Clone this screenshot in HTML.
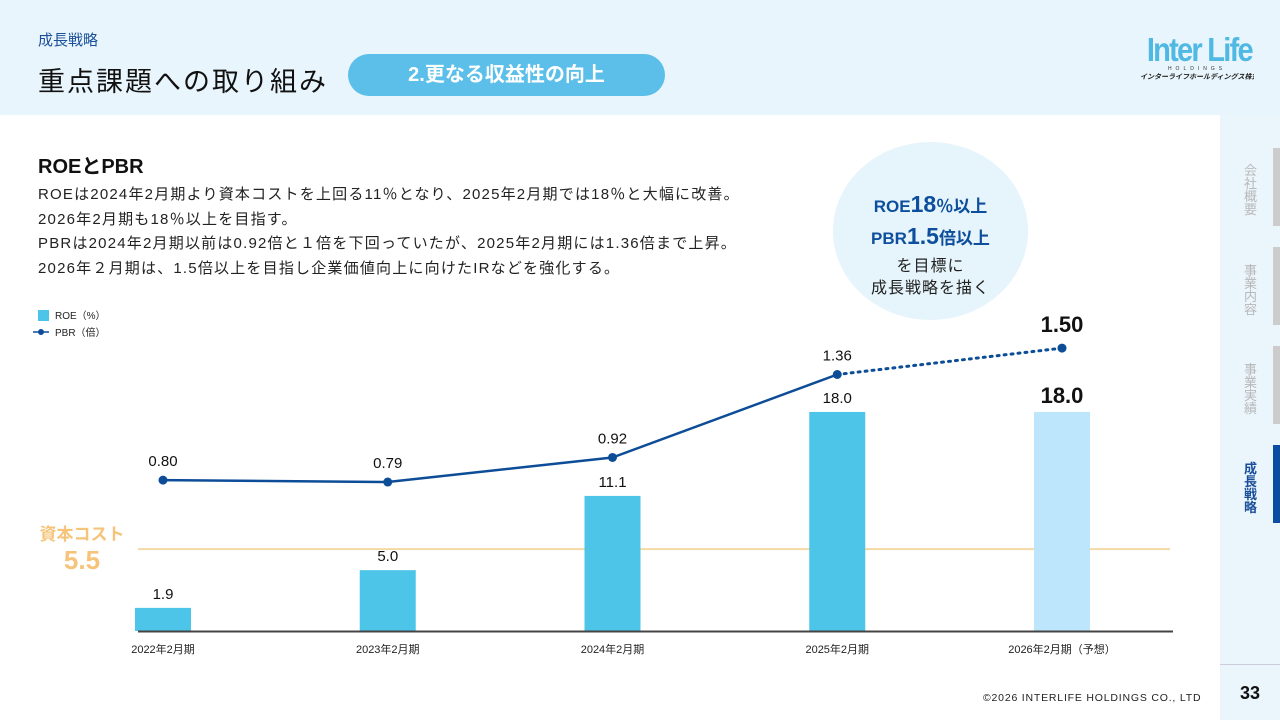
<!DOCTYPE html>
<html><head><meta charset="utf-8">
<style>
*{margin:0;padding:0;box-sizing:border-box}
body{width:1280px;height:720px;overflow:hidden;background:#fff;font-family:"Liberation Sans","Noto Sans CJK JP",sans-serif;position:relative;color:#111}
.abs{position:absolute}
</style></head><body>
<div class="abs" style="left:0;top:0;width:1280px;height:115px;background:#e9f5fc"></div>
<div class="abs" style="left:1220px;top:115px;width:60px;height:605px;background:#eaf5fc"></div>
<div class="abs" style="left:38px;top:29px;font-size:15px;color:#1a4f9a">成長戦略</div>
<div class="abs" style="left:38px;top:60px;font-size:27px;letter-spacing:2px;color:#111">重点課題への取り組み</div>
<div class="abs" style="left:348px;top:54px;width:317px;height:42px;border-radius:21px;background:#5bbfe9;color:#fff;font-size:20px;font-weight:bold;text-align:center;line-height:42px">2.更なる収益性の向上</div>
<div class="abs" style="left:1140px;top:33px;width:114px;text-align:center;overflow:hidden">
 <div style="font-size:33px;font-weight:bold;color:#4fb8e3;line-height:33px;letter-spacing:-2px;white-space:nowrap;transform:scaleX(.88);transform-origin:center">Inter Life</div>
 <div style="font-size:5px;letter-spacing:4px;color:#333;white-space:nowrap">HOLDINGS</div>
 <div style="font-size:7px;color:#222;font-style:italic;white-space:nowrap;font-weight:bold">インターライフホールディングス株式会社</div>
</div>
<div class="abs" style="left:38px;top:150px;font-size:20px;font-weight:bold">ROEとPBR</div>
<div class="abs" style="left:38px;top:183px;font-size:15px;line-height:24.5px;letter-spacing:1.2px;color:#222;white-space:nowrap">ROEは2024年2月期より資本コストを上回る11％となり、2025年2月期では18％と大幅に改善。<br>2026年2月期も18％以上を目指す。<br>PBRは2024年2月期以前は0.92倍と１倍を下回っていたが、2025年2月期には1.36倍まで上昇。<br>2026年２月期は、1.5倍以上を目指し企業価値向上に向けたIRなどを強化する。</div>
<div class="abs" style="left:833px;top:142px;width:195px;height:178px;border-radius:50%;background:#e6f4fc;text-align:center;color:#0d4f9c;font-weight:bold">
 <div style="margin-top:48px;font-size:17px;line-height:28px">ROE<span style="font-size:23px">18</span>％以上</div>
 <div style="font-size:17px;line-height:30px">PBR<span style="font-size:23px">1.5</span>倍以上</div>
 <div style="font-size:16px;line-height:22px;color:#222;font-weight:normal;margin-top:2px;letter-spacing:1px">を目標に<br>成長戦略を描く</div>
</div>
<div class="abs" style="left:35px;top:520px;font-size:17px;font-weight:bold;color:#f5c47a;text-align:center;width:94px">資本コスト<div style="font-size:26px">5.5</div></div>
<svg class="abs" id="chart" style="left:0;top:0" width="1220" height="720"></svg>
<div class="abs" style="left:1273px;top:148px;width:7px;height:78px;background:#ccc"></div>
<div class="abs" style="left:1273px;top:247px;width:7px;height:78px;background:#ccc"></div>
<div class="abs" style="left:1273px;top:346px;width:7px;height:78px;background:#ccc"></div>
<div class="abs" style="left:1273px;top:445px;width:7px;height:78px;background:#0a4da2"></div>
<div class="abs" style="left:1244px;top:164px;width:14px;font-size:13px;line-height:13px;color:#b8b8b8">会社概要</div>
<div class="abs" style="left:1244px;top:264px;width:14px;font-size:13px;line-height:13px;color:#b8b8b8">事業内容</div>
<div class="abs" style="left:1244px;top:363px;width:14px;font-size:13px;line-height:13px;color:#b8b8b8">事業実績</div>
<div class="abs" style="left:1244px;top:462px;width:14px;font-size:13px;line-height:13px;color:#1a4f9a;font-weight:bold">成長戦略</div>
<div class="abs" style="left:1220px;top:664px;width:60px;height:1px;background:#ccd"></div>
<div class="abs" style="left:1240px;top:683px;font-size:18px;font-weight:bold">33</div>
<div class="abs" style="left:983px;top:692px;font-size:10.5px;color:#222;letter-spacing:.8px">©2026 INTERLIFE HOLDINGS CO., LTD</div>
<script>
const categories=["2022年2月期","2023年2月期","2024年2月期","2025年2月期","2026年2月期（予想）"];
const roeValues=[1.9,5.0,11.1,18.0,18.0];
const roeLabels=["1.9","5.0","11.1","18.0","18.0"];
const pbrValues=[0.80,0.79,0.92,1.36,1.50];
const pbrLabels=["0.80","0.79","0.92","1.36","1.50"];
const forecast=[false,false,false,false,true];
const costOfCapital=5.5;
const NS="http://www.w3.org/2000/svg";
const svg=document.getElementById('chart');
const baseY=631, x0=163, step=224.75;
const xPos=i=>x0+i*step;
const yRoe=v=>baseY-v*12.17;
const yPbr=v=>baseY-v*188.6;
function mk(tag,attrs){const e=document.createElementNS(NS,tag);for(const k in attrs)e.setAttribute(k,attrs[k]);svg.appendChild(e);return e;}
let cl=mk('line',{x1:138,x2:1170,y1:yRoe(costOfCapital)-15,y2:yRoe(costOfCapital)-15,stroke:'#f3d9a4','stroke-width':2});


roeValues.forEach((v,i)=>{
 const r=mk('rect',{x:xPos(i)-28,y:yRoe(v),width:56,height:baseY-yRoe(v),fill:forecast[i]?'#bde5fb':'#4dc5e8'});
 
 
 const t=mk('text',{x:xPos(i),y:yRoe(v)-9,'text-anchor':'middle','font-size':forecast[i]?22:15,'font-weight':forecast[i]?'bold':'normal',fill:'#111'});
 t.textContent=roeLabels[i];
 
 
 const c=mk('text',{x:xPos(i),y:653,'text-anchor':'middle','font-size':11,fill:'#222'});
 c.textContent=categories[i];
 
 
});
let ax=mk('line',{x1:138,x2:1173,y1:baseY+0.5,y2:baseY+0.5,stroke:'#444','stroke-width':2});


for(let i=0;i<pbrValues.length-1;i++){
 const l=mk('line',{x1:xPos(i),y1:yPbr(pbrValues[i]),x2:xPos(i+1),y2:yPbr(pbrValues[i+1]),stroke:'#0d4d98','stroke-width':forecast[i+1]?3:2.5,'stroke-dasharray':forecast[i+1]?'2 5':'none','stroke-linecap':'round'});
 
 
}
pbrValues.forEach((v,i)=>{
 const c=mk('circle',{cx:xPos(i),cy:yPbr(v),r:4.5,fill:'#0d4d98'});
 
 
 const t=mk('text',{x:xPos(i),y:yPbr(v)-(forecast[i]?16:14),'text-anchor':'middle','font-size':forecast[i]?22:15,'font-weight':forecast[i]?'bold':'normal',fill:'#111'});
 t.textContent=pbrLabels[i];
 
 
});
let lr=mk('rect',{x:38,y:310,width:11,height:11,fill:'#4dc5e8'});


let lt=mk('text',{x:55,y:319,'font-size':10,fill:'#222'});lt.textContent='ROE（%）';


let ll=mk('line',{x1:33,x2:49,y1:332,y2:332,stroke:'#0d4d98','stroke-width':1.5});


let lc=mk('circle',{cx:41,cy:332,r:3,fill:'#0d4d98'});


let lt2=mk('text',{x:55,y:336,'font-size':10,fill:'#222'});lt2.textContent='PBR（倍）';


</script>
</body></html>
